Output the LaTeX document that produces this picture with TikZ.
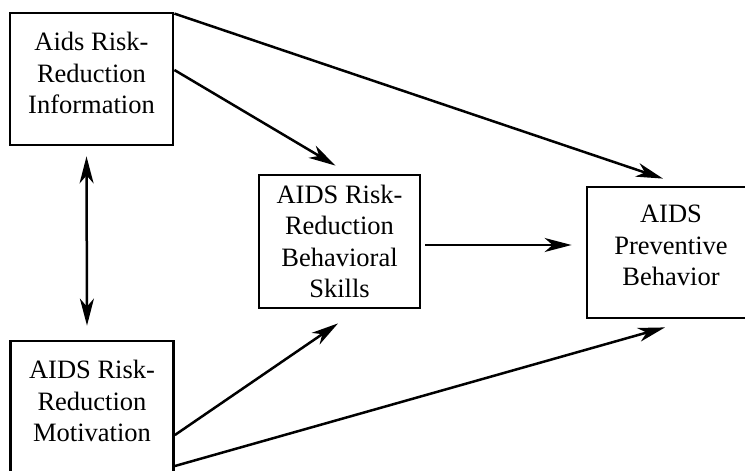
\documentclass[tikz,border=0pt]{standalone}
\usepackage{fontspec}
\setmainfont{Liberation Serif}
\usetikzlibrary{arrows.meta}
\begin{document}
\begin{tikzpicture}[x=1pt,y=-1pt,
  >={Stealth[length=27pt,width=14pt,inset=8pt]},
  box/.style={draw,line width=2.8pt,align=center,inner sep=0pt,
    minimum width=163pt,minimum height=132pt,font=\fontsize{26.5}{31.5}\selectfont},
  arr/.style={line width=2.5pt,->}]
\clip (0,0) rectangle (745,471);

\node[box,text depth=12pt] (info) at (91.5,79) {Aids Risk-\\Reduction\\Information};
\node[box,text depth=12pt] (motiv) at (92,407) {AIDS Risk-\\Reduction\\Motivation};
\node[box,minimum width=161pt,minimum height=133pt] (skills) at (339.5,241.5) {AIDS Risk-\\Reduction\\Behavioral\\Skills};
\node[box,text depth=14pt,minimum width=168pt,minimum height=131pt] (behav) at (671,252.5) {AIDS\\Preventive\\Behavior};

\draw[arr] ([yshift=-2pt]info.north east) -- ([xshift=-8pt,yshift=7pt]behav.north);
\draw[arr] ([yshift=9pt]info.east) -- ([xshift=-4pt,yshift=8pt]skills.north);
\draw[arr,<->] ([xshift=-5pt,yshift=-10pt]info.south) -- ([xshift=-5pt,yshift=14pt]motiv.north);
\draw[arr] ([xshift=4pt,yshift=-3.5pt]skills.east) -- ([xshift=-14pt,yshift=7.5pt]behav.west);
\draw[arr] ([yshift=-28pt]motiv.east) -- ([xshift=-1.5pt,yshift=-14pt]skills.south);
\draw[arr] ([yshift=-59pt]motiv.east) -- ([xshift=-6pt,yshift=-8pt]behav.south);
\end{tikzpicture}
\end{document}
